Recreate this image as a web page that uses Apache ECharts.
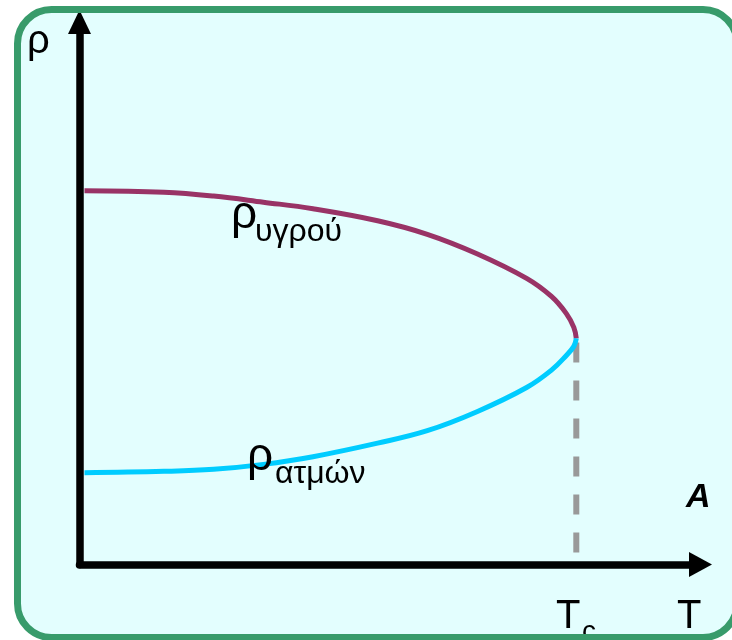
<!DOCTYPE html>
<html>
<head>
<meta charset="utf-8">
<script src="https://cdn.jsdelivr.net/npm/echarts@6/dist/echarts.min.js"></script>
<style>
  html, body { margin: 0; padding: 0; background: #fff; overflow: hidden; }
  #chart { width: 732px; height: 640px; }
</style>
</head>
<body>
<div id="chart"></div>
<script>
// T / Tc
const temps = [0.01, 0.17, 0.27, 0.37, 0.47, 0.6, 0.7, 0.8, 0.9, 0.95, 0.98, 0.995, 1.0]
// ρ / ρc
const liquidDensity = [1.654, 1.647, 1.63, 1.603, 1.574, 1.521, 1.461, 1.375, 1.266, 1.186, 1.11, 1.049, 1.0]
const vaporDensity = [0.406, 0.412, 0.421, 0.443, 0.477, 0.537, 0.592, 0.676, 0.783, 0.86, 0.925, 0.965, 1.0]
const criticalLine = [[1.0, 0.982], [1.0, 0.045]]

const FONT = '"Liberation Sans", Arial, sans-serif'

const chart = echarts.init(document.getElementById('chart'))

const axisBase = {
  type: 'value',
  axisLabel: { show: false },
  axisTick: { show: false },
  splitLine: { show: false },
  axisLine: {
    show: true,
    lineStyle: { color: '#000', width: 7.5 },
    symbol: ['none', 'triangle']
  }
}

// baseline -> middle for Liberation Sans
const txt = (text, x, baseline, size, extra) => ({
  type: 'text',
  z: 50,
  x: x,
  y: baseline - 0.3465 * size,
  style: Object.assign({
    text: text,
    font: size + 'px ' + FONT,
    fill: '#000',
    verticalAlign: 'middle'
  }, extra || {})
})

const frame = { x: 17.5, y: 9.5, width: 719.5, height: 628, r: 34 }

const option = {
  animation: false,
  grid: { left: 79.5, right: 31.5, top: 22, bottom: 75.5 },
  xAxis: Object.assign({}, axisBase, {
    min: 0, max: 1.25,
    axisLine: Object.assign({}, axisBase.axisLine, { symbolSize: [25, 23] })
  }),
  yAxis: Object.assign({}, axisBase, {
    min: 0, max: 2.4,
    axisLine: Object.assign({}, axisBase.axisLine, { symbolSize: [23, 24] })
  }),
  series: [
    {
      type: 'line',
      data: criticalLine,
      showSymbol: false,
      lineStyle: { color: '#999999', width: 6, type: [20, 18] },
      z: 1
    },
    {
      type: 'line',
      data: temps.map((t, i) => [t, liquidDensity[i]]),
      smooth: 0.4,
      showSymbol: false,
      lineStyle: { color: '#993366', width: 5 },
      z: 2
    },
    {
      type: 'line',
      data: temps.map((t, i) => [t, vaporDensity[i]]),
      smooth: 0.4,
      showSymbol: false,
      lineStyle: { color: '#00ccff', width: 5 },
      z: 3
    }
  ],
  graphic: [
    { type: 'rect', z: -10, shape: frame, style: { fill: '#e3fefe' } },
    txt('ρ', 27, 56, 40),
    txt('ρ', 231, 231, 46),
    txt('υγρού', 255, 243, 32),
    txt('ρ', 247, 473, 46),
    txt('ατμών', 275, 485, 32),
    txt('A', 686, 509, 34, { font: 'italic bold 34px ' + FONT }),
    txt('T', 556, 631, 40),
    txt('c', 582, 642, 28),
    txt('T', 677, 631, 40),
    { type: 'rect', z: 100, shape: frame, style: { fill: 'none', stroke: '#389b6b', lineWidth: 7 } }
  ]
}

chart.setOption(option)
</script>
</body>
</html>
